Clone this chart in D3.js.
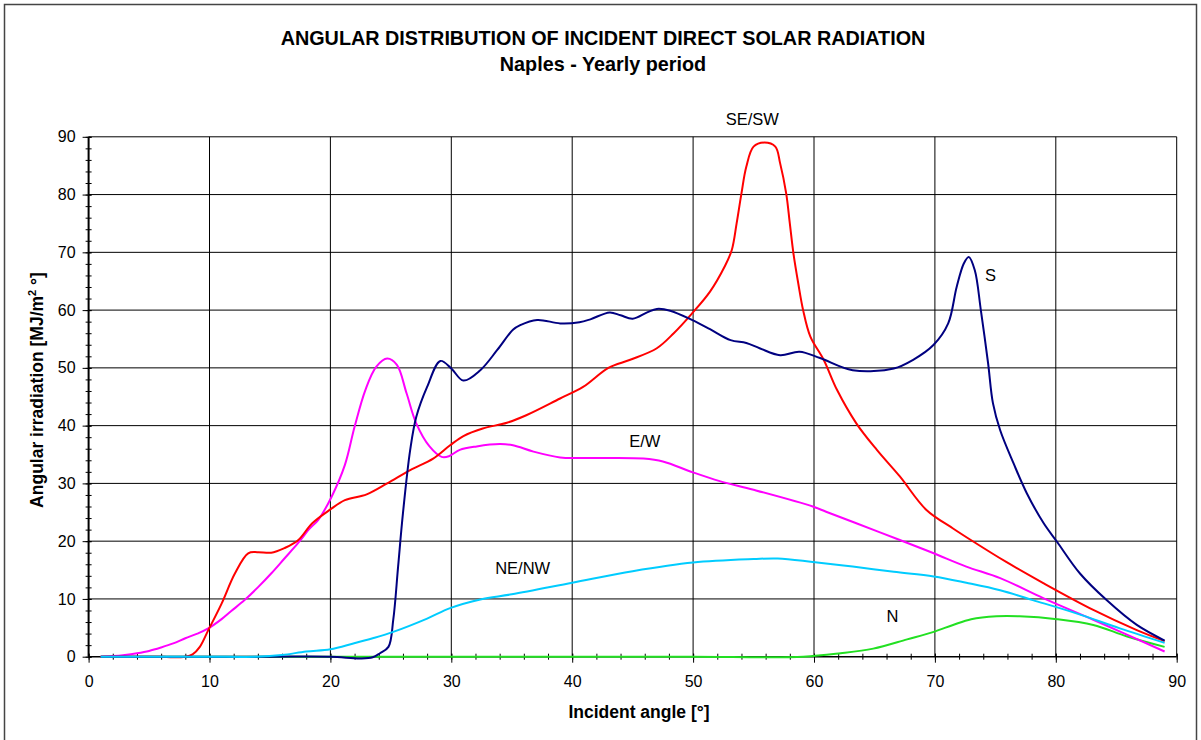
<!DOCTYPE html>
<html>
<head>
<meta charset="utf-8">
<script src="https://cdn.jsdelivr.net/npm/d3@7"></script>
<style>
  html, body { margin: 0; padding: 0; background: #fff; }
  svg { display: block; font-family: Arial, "Liberation Sans", sans-serif; }
</style>
</head>
<body>
<svg id="chart" width="1201" height="740"></svg>
<script>
// Incident angle [°] and angular irradiation [MJ/m² °] for each orientation
const seSwAngle = [1, 2, 3, 4, 5, 6, 7, 8, 8.6, 9.2, 9.9, 11, 12.1, 13.2, 14, 15.1, 16.2, 17.3, 18.5, 20, 21.2, 23, 24.7, 26.6, 28.5, 29.9, 31, 32.6, 34.6, 36.2, 39, 40.9, 43, 44.8, 47, 48.4, 49.9, 51.4, 52.6, 53.2, 53.6, 54, 54.4, 55, 55.9, 56.8, 57.2, 57.7, 58, 58.3, 58.7, 59.1, 59.7, 60.8, 61.9, 63.5, 65.2, 67.1, 69.3, 71.5, 73.2, 75.9, 79, 83.1, 86.7, 89];
const seSwValue = [0, 0, 0, 0, 0, 0, -0.1, 0, 0.4, 1.7, 4.6, 9.2, 14.4, 17.9, 18.1, 18.0, 18.8, 20.1, 23.1, 25.5, 27.1, 28.1, 30.0, 32.3, 34.3, 36.6, 38.2, 39.5, 40.5, 41.8, 44.7, 46.7, 50.0, 51.4, 53.4, 56.0, 59.4, 63.2, 67.5, 70.4, 75.0, 80.2, 84.8, 88.3, 89.0, 88.3, 85.4, 80.2, 75.0, 69.8, 64.6, 60.0, 55.4, 51.4, 46.2, 40.4, 35.8, 31.2, 25.4, 22.2, 19.9, 16.4, 12.7, 8.1, 4.6, 2.7];

const ewAngle = [1, 2, 3, 4, 5, 6, 7, 8, 9, 9.9, 11, 11.8, 12.9, 14, 15.1, 16.2, 17.3, 18.3, 19, 20.1, 21.2, 22, 22.9, 23.8, 24.7, 25.5, 26.3, 27.1, 28.2, 29.2, 29.8, 30.7, 32.1, 34, 35.1, 36.8, 39, 40.5, 42.6, 45.9, 47.5, 50, 52.2, 55, 59.9, 61, 63.5, 67.1, 69.9, 72.6, 75.4, 79, 83.1, 89];
const ewValue = [0, 0.1, 0.3, 0.6, 1.0, 1.6, 2.3, 3.2, 4.0, 4.9, 6.5, 7.9, 9.8, 12.0, 14.4, 17.0, 19.6, 22.2, 23.7, 27.7, 33.2, 39.8, 46.2, 50.2, 51.6, 50.5, 45.6, 40.4, 36.4, 34.6, 34.7, 35.8, 36.4, 36.8, 36.6, 35.5, 34.5, 34.4, 34.4, 34.3, 33.8, 31.9, 30.4, 28.9, 26.0, 25.1, 23.1, 20.2, 17.9, 15.6, 13.6, 10.1, 6.4, 0.9];

const sAngle = [1, 5, 10, 15, 20, 22.5, 23.5, 24.1, 24.8, 25.2, 25.6, 26, 26.6, 27.1, 28, 29.1, 30, 31, 32.4, 33.8, 35.1, 35.7, 37.1, 39, 40.6, 41.5, 43.1, 44, 45, 46.2, 47, 48.1, 49.9, 51.4, 53.1, 54.4, 55.5, 57.2, 58.8, 60.5, 63.2, 66.6, 68.2, 69.9, 71.1, 71.8, 72.4, 72.8, 73.3, 73.8, 74.4, 74.8, 75.4, 76.5, 77.6, 79, 80.1, 82, 84.2, 86.7, 89];
const sValue = [0, 0, 0, 0, 0, -0.3, -0.1, 0.6, 1.7, 6.4, 15.6, 24.8, 35.8, 41.5, 46.7, 51.2, 49.9, 47.8, 49.6, 53.1, 56.6, 57.4, 58.3, 57.7, 57.9, 58.4, 59.6, 59.1, 58.5, 59.6, 60.2, 59.9, 58.3, 56.7, 54.8, 54.3, 53.4, 52.2, 52.8, 51.7, 49.6, 49.9, 51.4, 54.0, 57.7, 64.0, 68.1, 69.2, 66.9, 60.0, 50.8, 43.9, 39.2, 33.5, 28.3, 23.1, 19.9, 14.4, 9.8, 5.5, 2.8];

const neNwAngle = [1, 5, 10, 13.9, 16, 18, 20, 21.9, 23.5, 25.2, 28, 29.9, 32.4, 35, 40, 45, 50, 55, 57, 59.9, 63.2, 66.6, 69.9, 72.6, 75.4, 78.1, 81.7, 85.3, 89];
const neNwValue = [0, 0, 0, 0, 0.3, 0.9, 1.3, 2.3, 3.2, 4.3, 6.6, 8.4, 9.9, 10.8, 12.8, 14.8, 16.3, 16.9, 17.0, 16.4, 15.6, 14.7, 13.9, 12.8, 11.5, 9.8, 7.5, 4.9, 2.4];

const nAngle = [1, 10, 20, 30, 40, 50, 59.1, 62.2, 64.9, 67.7, 69.9, 71.5, 73, 75.1, 77, 80.1, 83.1, 85.9, 89];
const nValue = [0, 0, 0, 0, 0, 0, 0, 0.6, 1.4, 3.0, 4.3, 5.5, 6.5, 7.0, 7.0, 6.5, 5.5, 3.5, 1.7];

const xTicks = [0, 10, 20, 30, 40, 50, 60, 70, 80, 90];
const yTicks = [0, 10, 20, 30, 40, 50, 60, 70, 80, 90];

const series = [
  { name: "N",     angle: nAngle,    value: nValue,    color: "#22e022", label: [66.5, 6.0] },
  { name: "E/W",   angle: ewAngle,   value: ewValue,   color: "#ff00ff", label: [46.0, 36.3] },
  { name: "SE/SW", angle: seSwAngle, value: seSwValue, color: "#ff0000", label: [54.9, 92.0] },
  { name: "S",     angle: sAngle,    value: sValue,    color: "#000080", label: [74.6, 65.0] },
  { name: "NE/NW", angle: neNwAngle, value: neNwValue, color: "#00ccff", label: [35.9, 14.4] }
];

const svg = d3.select("#chart");

svg.append("rect").attr("width", 1201).attr("height", 740).attr("fill", "#fff");
// outer chart frame
svg.append("rect")
  .attr("x", 4.5).attr("y", 4.5).attr("width", 1192).attr("height", 750)
  .attr("fill", "none").attr("stroke", "#444").attr("stroke-width", 1.5);

const x = d3.scaleLinear().domain([0, 90]).range([88.6, 1176.7]);
const y = d3.scaleLinear().domain([0, 90]).range([656.7, 136.8]);

// titles
svg.append("text").attr("x", 603).attr("y", 45).attr("text-anchor", "middle")
  .attr("font-size", 19.8).attr("font-weight", "bold")
  .text("ANGULAR DISTRIBUTION OF INCIDENT DIRECT SOLAR RADIATION");
svg.append("text").attr("x", 603).attr("y", 71).attr("text-anchor", "middle")
  .attr("font-size", 19.8).attr("font-weight", "bold")
  .text("Naples - Yearly period");

// grid
const grid = svg.append("g");
grid.selectAll("line.gx").data(xTicks.slice(1)).join("line")
  .attr("x1", d => x(d)).attr("x2", d => x(d))
  .attr("y1", y(0)).attr("y2", y(90))
  .attr("stroke", "#000").attr("stroke-width", 1);
grid.selectAll("line.gy").data(yTicks.slice(1)).join("line")
  .attr("x1", x(0)).attr("x2", x(90))
  .attr("y1", d => y(d)).attr("y2", d => y(d))
  .attr("stroke", "#000").attr("stroke-width", 1);

// axes
const minor = d3.range(0, 91, 2);
const xAxis = svg.append("g").attr("transform", `translate(0,${y(0)})`)
  .call(d3.axisBottom(x).tickValues(minor).tickSize(3).tickFormat(""));
xAxis.select(".domain").remove();
xAxis.selectAll(".tick line").attr("y1", -3).attr("stroke", "#000");
const xMajor = svg.append("g").attr("transform", `translate(0,${y(0)})`)
  .call(d3.axisBottom(x).tickValues(xTicks).tickSize(6).tickPadding(13));
xMajor.select(".domain").remove();
xMajor.selectAll(".tick line").attr("y1", -3).attr("stroke", "#000");
xMajor.selectAll(".tick text").attr("font-size", 16).attr("font-family", "Arial, 'Liberation Sans', sans-serif").attr("fill", "#000");

const yAxis = svg.append("g").attr("transform", `translate(${x(0)},0)`)
  .call(d3.axisLeft(y).tickValues(minor).tickSize(3).tickFormat(""));
yAxis.select(".domain").remove();
yAxis.selectAll(".tick line").attr("x1", 3).attr("stroke", "#000");
const yMajor = svg.append("g").attr("transform", `translate(${x(0)},0)`)
  .call(d3.axisLeft(y).tickValues(yTicks).tickSize(6).tickPadding(7));
yMajor.select(".domain").remove();
yMajor.selectAll(".tick line").attr("x1", 3).attr("stroke", "#000");
yMajor.selectAll(".tick text").attr("font-size", 16).attr("font-family", "Arial, 'Liberation Sans', sans-serif").attr("fill", "#000");

// axis lines
svg.append("line").attr("x1", x(0)).attr("x2", x(0)).attr("y1", y(0)).attr("y2", y(90))
  .attr("stroke", "#000").attr("stroke-width", 2);
svg.append("line").attr("x1", x(0)).attr("x2", x(90)).attr("y1", y(0)).attr("y2", y(0))
  .attr("stroke", "#000").attr("stroke-width", 1.5);

// curves, drawn over the axes
const line = d3.line()
  .x(d => x(d[0])).y(d => y(d[1]))
  .curve(d3.curveCatmullRom.alpha(0.5));

svg.append("g").selectAll("path").data(series).join("path")
  .attr("d", s => line(s.angle.map((a, i) => [a, s.value[i]])))
  .attr("fill", "none")
  .attr("stroke", s => s.color)
  .attr("stroke-width", 2)
  .attr("stroke-linejoin", "round");

// series labels
svg.append("g").selectAll("text").data(series).join("text")
  .attr("x", s => x(s.label[0])).attr("y", s => y(s.label[1]))
  .attr("text-anchor", "middle").attr("font-size", 16.5)
  .text(s => s.name);

// axis titles
svg.append("text").attr("x", 639).attr("y", 718).attr("text-anchor", "middle")
  .attr("font-size", 17.5).attr("font-weight", "bold")
  .text("Incident angle [°]");
const yt = svg.append("text")
  .attr("transform", "translate(43,390) rotate(-90)")
  .attr("text-anchor", "middle").attr("font-size", 17.5).attr("font-weight", "bold");
yt.append("tspan").text("Angular irradiation [MJ/m");
yt.append("tspan").attr("dy", -7).attr("font-size", 11).text("2");
yt.append("tspan").attr("dy", 7).text(" °]");
</script>
</body>
</html>
